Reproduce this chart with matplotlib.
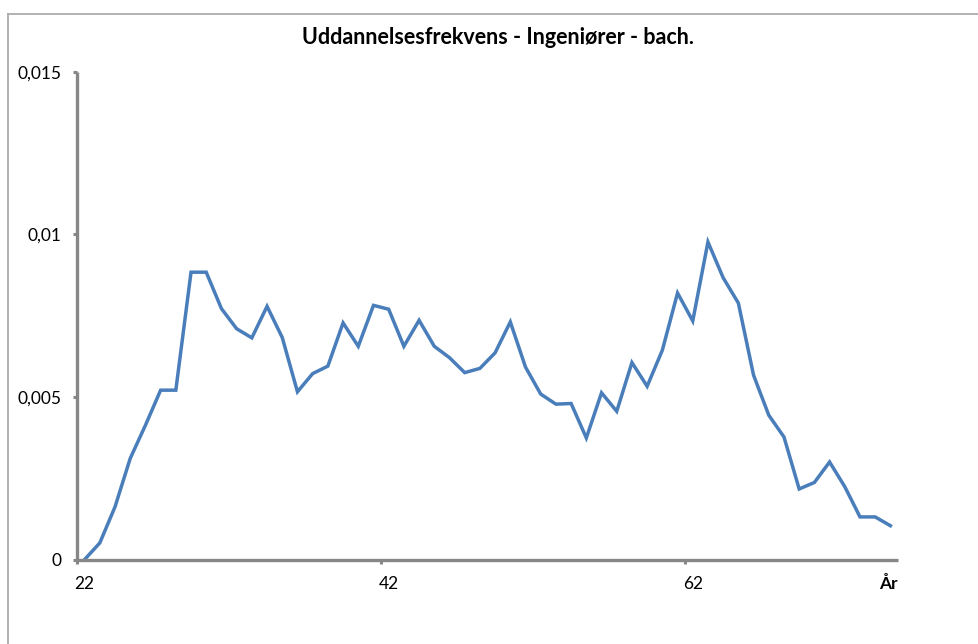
import matplotlib
matplotlib.use("Agg")
import matplotlib.pyplot as plt
from matplotlib.lines import Line2D
from matplotlib.ticker import FixedLocator, FixedFormatter

# ---- data ----
ages = list(range(22, 76))
freq = [0.0, 0.00051, 0.00162, 0.00311, 0.00413, 0.00521, 0.00521, 0.00884, 0.00884, 0.00772,
        0.0071, 0.00682, 0.00779, 0.00683, 0.00516, 0.00572, 0.00595, 0.00728, 0.00656, 0.00782,
        0.0077, 0.00656, 0.00736, 0.00656, 0.00621, 0.00575, 0.00588, 0.00636, 0.00731, 0.00592,
        0.00509, 0.00478, 0.0048, 0.00374, 0.00513, 0.00456, 0.00606, 0.00533, 0.00644, 0.0082,
        0.00734, 0.00977, 0.00867, 0.00789, 0.00567, 0.00444, 0.00377, 0.00217, 0.00237, 0.003,
        0.00224, 0.00131, 0.00131, 0.00104]
x_label_ages = [22, 42, 62]
x_labels = ["22", "42", "62"]
y_ticks = [0, 0.005, 0.01, 0.015]
y_labels = ["0", "0,005", "0,01", "0,015"]
title = "Uddannelsesfrekvens - Ingeniører - bach."
x_title = "År"

plt.rcParams['font.family'] = ['Lato', 'DejaVu Sans']

W, H = 979, 644
fig = plt.figure(figsize=(W / 100, H / 100), dpi=100)
fig.patch.set_facecolor('white')

L, R, T, B = 77, 898, 72, 559.5
ax = fig.add_axes([L / W, 1 - B / H, (R - L) / W, (B - T) / H])
ax.plot(ages, freq, color='#4A7EBB', lw=2.5, solid_joinstyle='miter', clip_on=False)

ax.set_xlim(ages[0] - 0.5, ages[-1] + 0.5)
ax.set_ylim(0, 0.015)

for s in ['top', 'right']:
    ax.spines[s].set_visible(False)
for s in ['left', 'bottom']:
    ax.spines[s].set_color('#878787')
    ax.spines[s].set_linewidth(2.4)
    ax.spines[s].set_capstyle('butt')

# y ticks
ax.yaxis.set_major_locator(FixedLocator(y_ticks))
ax.yaxis.set_major_formatter(FixedFormatter(y_labels))
ax.tick_params(axis='y', direction='out', length=3, width=2.2, color='#878787',
               labelsize=12.5, pad=8, labelcolor='black')

# x: ticks at category boundaries, labels at category centres
bounds = [a - 0.5 for a in x_label_ages]
ax.xaxis.set_major_locator(FixedLocator(bounds))
ax.xaxis.set_major_formatter(FixedFormatter(["", "", ""]))
ax.xaxis.set_minor_locator(FixedLocator(x_label_ages))
ax.xaxis.set_minor_formatter(FixedFormatter(x_labels))
ax.tick_params(axis='x', which='major', direction='out', length=3, width=2.2, color='#878787')
ax.tick_params(axis='x', which='minor', length=0, labelsize=12.5, pad=12, labelcolor='black')

fig.text(498 / W, 1 - 37 / H, title, ha='center', va='center', fontsize=15.5, fontweight='bold')
fig.text(R / W, 1 - 584 / H, x_title, ha='right', va='center', fontsize=12.5, fontweight='bold')

# chart frame (top and left edges visible)
fig.add_artist(Line2D([8.5 / W, 1.0], [1 - 13.5 / H, 1 - 13.5 / H], color='#A6A6A6', lw=1.2,
                      transform=fig.transFigure))
fig.add_artist(Line2D([8.5 / W, 8.5 / W], [0, 1 - 13.5 / H], color='#A6A6A6', lw=1.2,
                      transform=fig.transFigure))

fig.savefig("out.png", dpi=100, facecolor='white')
